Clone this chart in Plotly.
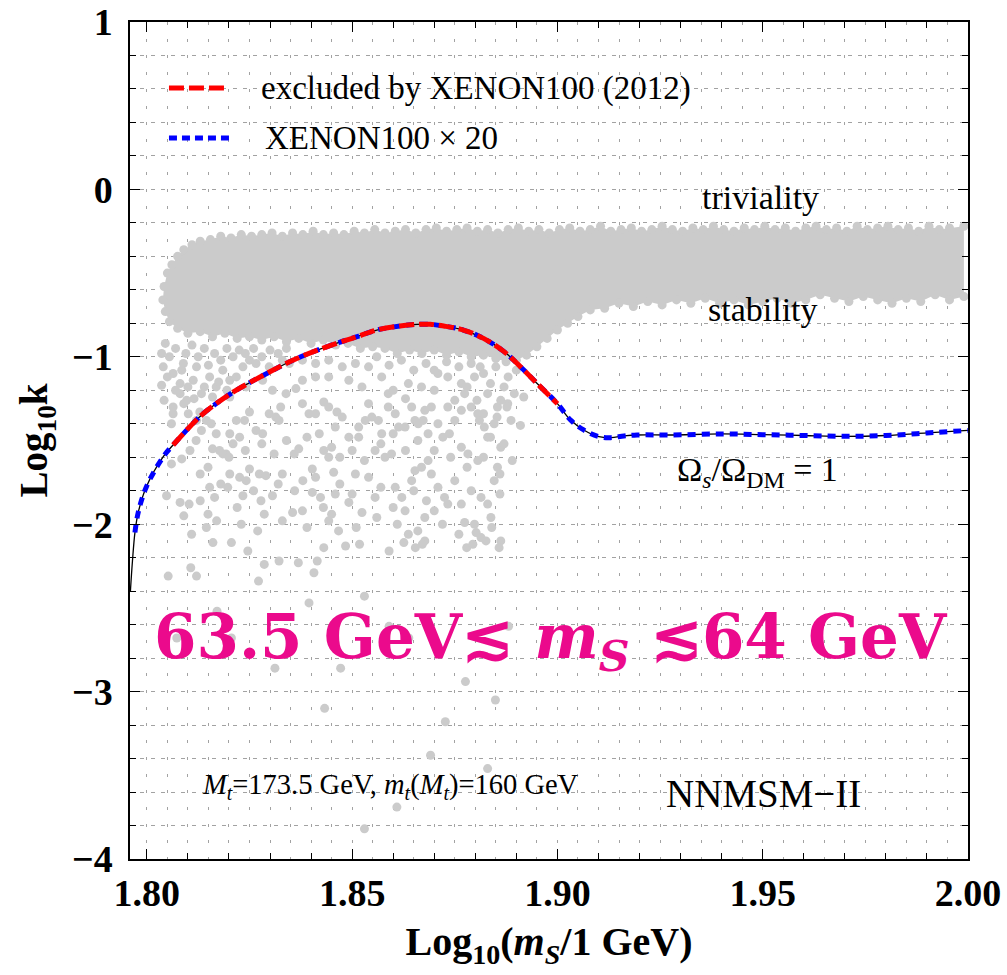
import plotly.graph_objects as go

# ---------------- data ----------------
curve_x = [1.7960, 1.7965, 1.7971, 1.7979, 1.7999, 1.8040, 1.8064, 1.8129, 1.8170, 1.8219,
           1.8308, 1.8357, 1.8406, 1.8463, 1.8512, 1.8560, 1.8617, 1.8658, 1.8690, 1.8723,
           1.8771, 1.8820, 1.8870, 1.8910, 1.8950, 1.9000, 1.9032, 1.9064, 1.9101, 1.9130,
           1.9162, 1.9194, 1.9276, 1.9398, 1.9500, 1.9600, 1.9700, 1.9800, 1.9900, 2.0000]
curve_y = [-2.40, -2.22, -2.05, -1.93, -1.776, -1.597, -1.527, -1.358, -1.278, -1.198,
           -1.079, -1.019, -0.969, -0.919, -0.880, -0.840, -0.816, -0.806, -0.806, -0.816,
           -0.840, -0.890, -0.969, -1.059, -1.158, -1.280, -1.378, -1.437, -1.477, -1.483,
           -1.473, -1.467, -1.467, -1.461, -1.465, -1.470, -1.475, -1.470, -1.455, -1.440]

# ranges of the two exclusion curves
blue_from = 1.7970
red_from, red_to = 1.8064, 1.9000

# dense band of scanned points (outline: top edge, right side, bottom edge)
band_x = [1.8039, 1.8042, 1.8050, 1.8061, 1.8075, 1.8090, 1.8110, 1.8130, 1.8155, 1.8180,
          1.8205, 1.8230, 1.8255, 1.8280, 1.8305, 1.8330, 1.8355, 1.8380, 1.8405, 1.8430,
          1.8455, 1.8480, 1.8505, 1.8530, 1.8555, 1.8580, 1.8605, 1.8630, 1.8655, 1.8680,
          1.8705, 1.8730, 1.8755, 1.8780, 1.8805, 1.8830, 1.8855, 1.8880, 1.8905, 1.8930,
          1.8955, 1.8980, 1.9005, 1.9030, 1.9055, 1.9080, 1.9105, 1.9130, 1.9155, 1.9180,
          1.9205, 1.9230, 1.9255, 1.9280, 1.9305, 1.9330, 1.9355, 1.9380, 1.9405, 1.9430,
          1.9455, 1.9480, 1.9505, 1.9530, 1.9555, 1.9580, 1.9605, 1.9630, 1.9655, 1.9680,
          1.9705, 1.9730, 1.9755, 1.9780, 1.9805, 1.9830, 1.9855, 1.9880, 1.9905, 1.9930,
          1.9955, 1.9990,
          1.9990, 1.9955, 1.9920, 1.9885, 1.9850, 1.9815, 1.9780, 1.9745, 1.9710, 1.9675,
          1.9640, 1.9605, 1.9570, 1.9535, 1.9500, 1.9465, 1.9430, 1.9395, 1.9360, 1.9325,
          1.9290, 1.9255, 1.9220, 1.9185, 1.9150, 1.9115, 1.9080, 1.9050, 1.9025, 1.9000,
          1.8975, 1.8950, 1.8925, 1.8900, 1.8875, 1.8850, 1.8820, 1.8790, 1.8760, 1.8730,
          1.8700, 1.8670, 1.8640, 1.8610, 1.8580, 1.8550, 1.8520, 1.8490, 1.8460, 1.8430,
          1.8400, 1.8370, 1.8340, 1.8310, 1.8280, 1.8250, 1.8220, 1.8190, 1.8160, 1.8130,
          1.8100, 1.8075, 1.8055, 1.8045]
band_y = [-0.66, -0.58, -0.50, -0.45, -0.40, -0.36, -0.33, -0.31, -0.30, -0.28,
          -0.29, -0.27, -0.28, -0.27, -0.26, -0.28, -0.26, -0.27, -0.25, -0.27,
          -0.26, -0.27, -0.25, -0.26, -0.24, -0.26, -0.25, -0.24, -0.26, -0.24,
          -0.23, -0.25, -0.24, -0.23, -0.25, -0.24, -0.26, -0.24, -0.23, -0.25,
          -0.24, -0.26, -0.24, -0.23, -0.25, -0.24, -0.22, -0.25, -0.24, -0.23,
          -0.25, -0.24, -0.22, -0.24, -0.25, -0.23, -0.24, -0.22, -0.24, -0.25,
          -0.23, -0.24, -0.22, -0.24, -0.23, -0.25, -0.23, -0.22, -0.24, -0.23,
          -0.25, -0.22, -0.24, -0.23, -0.22, -0.24, -0.23, -0.25, -0.22, -0.24,
          -0.23, -0.22,
          -0.64, -0.66, -0.63, -0.67, -0.65, -0.68, -0.66, -0.64, -0.67, -0.65,
          -0.63, -0.66, -0.68, -0.65, -0.67, -0.69, -0.66, -0.68, -0.65, -0.68,
          -0.66, -0.69, -0.67, -0.70, -0.68, -0.71, -0.72, -0.76, -0.80, -0.84,
          -0.89, -0.94, -0.99, -1.02, -1.03, -1.01, -0.99, -1.00, -0.97, -0.99,
          -0.96, -0.98, -0.96, -0.98, -0.95, -0.94, -0.95, -0.92, -0.93, -0.90,
          -0.92, -0.89, -0.91, -0.88, -0.90, -0.88, -0.89, -0.86, -0.88, -0.85,
          -0.86, -0.83, -0.79, -0.73]

# individual scattered points
pts_x = [1.8036, 1.8040, 1.8036, 1.8042, 1.8064, 1.8085, 1.8060, 1.8048, 1.8081, 1.8103,
         1.8105, 1.8109, 1.8145, 1.8149, 1.8149, 1.8153, 1.8165, 1.8161, 1.8197, 1.8202,
         1.8193, 1.8177, 1.8206, 1.8226, 1.8234, 1.8242, 1.8250, 1.8274, 1.8286, 1.8290,
         1.8278, 1.8306, 1.8330, 1.8355, 1.8359, 1.8379, 1.8403, 1.8403, 1.8411, 1.8423,
         1.8431, 1.8443, 1.8443, 1.8455, 1.8459, 1.8467, 1.8484, 1.8492, 1.8508, 1.8516,
         1.8524, 1.8556, 1.8556, 1.8580, 1.8596, 1.8605, 1.8621, 1.8629, 1.8637, 1.8645,
         1.8653, 1.8669, 1.8677, 1.8677, 1.8681, 1.8685, 1.8693, 1.8709, 1.8725, 1.8733,
         1.8766, 1.8774, 1.8798, 1.8802, 1.8814, 1.8814, 1.8838, 1.8846, 1.8854, 1.8862,
         1.8862, 1.8806, 1.8782, 1.8766,
         1.8064, 1.8081, 1.8097, 1.8101, 1.8121, 1.8133, 1.8129, 1.8145, 1.8157, 1.8169,
         1.8185, 1.8202, 1.8210, 1.8226, 1.8218, 1.8238, 1.8250, 1.8266, 1.8282, 1.8298,
         1.8314, 1.8322, 1.8326, 1.8339, 1.8363, 1.8379, 1.8395, 1.8411, 1.8431, 1.8443,
         1.8459, 1.8463, 1.8476, 1.8492, 1.8516, 1.8532, 1.8540, 1.8548, 1.8564, 1.8572,
         1.8588, 1.8605, 1.8613, 1.8629, 1.8645, 1.8653, 1.8661, 1.8673, 1.8677, 1.8685,
         1.8693, 1.8709, 1.8721, 1.8733, 1.8737, 1.8750, 1.8766, 1.8774, 1.8790, 1.8806,
         1.8810, 1.8822, 1.8830, 1.8846, 1.8854, 1.8862, 1.8879, 1.8887, 1.8895, 1.8766,
         1.8798, 1.8733, 1.8709, 1.8669, 1.8637, 1.8588, 1.8572, 1.8524, 1.8492, 1.8443,
         1.8411, 1.8379, 1.8306, 1.8282, 1.8242, 1.8202,
         1.8064, 1.8081, 1.8089, 1.8113, 1.8121, 1.8133, 1.8153, 1.8169, 1.8185, 1.8202,
         1.8218, 1.8234, 1.8250, 1.8266, 1.8298, 1.8330, 1.8347, 1.8379, 1.8411, 1.8443,
         1.8476, 1.8508, 1.8540,
         1.8052, 1.8107, 1.8121, 1.8246, 1.8286, 1.8322, 1.8272, 1.8369, 1.8407, 1.8415,
         1.8431, 1.8518, 1.8530, 1.8395, 1.8171, 1.8073, 1.8206, 1.8312, 1.8472, 1.8433,
         1.8590, 1.8638, 1.8590, 1.8626, 1.8654, 1.8671, 1.8779, 1.8794, 1.8826, 1.8858,
         1.8881, 1.8776, 1.8849, 1.8727, 1.8691, 1.8830, 1.8530, 1.8609,
         1.8812, 1.8837, 1.8804, 1.8877, 1.8910, 1.8870, 1.8837, 1.8853, 1.8918, 1.8820,
         1.8045, 1.8055, 1.8070, 1.8085, 1.8095, 1.8110, 1.8125, 1.8140, 1.8150, 1.8165,
         1.8180, 1.8195, 1.8210, 1.8225, 1.8240, 1.8260, 1.8280, 1.8300, 1.8320, 1.8340,
         1.8070, 1.8090, 1.8100, 1.8115, 1.8140, 1.8160, 1.8175, 1.8195, 1.8050, 1.8060,
         1.8560, 1.8590, 1.8620, 1.8650, 1.8680, 1.8700, 1.8730, 1.8760, 1.8790, 1.8820,
         1.8850, 1.8880, 1.8900, 1.8600, 1.8630, 1.8700, 1.8750, 1.8780, 1.8830, 1.8870,
         1.8120, 1.8160, 1.8200, 1.8240, 1.8280, 1.8310, 1.8340, 1.8370, 1.8390, 1.8420,
         1.8450, 1.8470, 1.8500, 1.8530, 1.8570, 1.8600, 1.8630, 1.8660, 1.8700, 1.8740,
         1.8780, 1.8820, 1.8860, 1.8890,
         1.8130, 1.8180, 1.8220, 1.8260, 1.8320, 1.8360, 1.8380, 1.8430, 1.8470, 1.8500,
         1.8540, 1.8570, 1.8600, 1.8650, 1.8700, 1.8750, 1.8790, 1.8830, 1.8860,
         1.8090, 1.8130, 1.8170, 1.8230, 1.8270, 1.8330, 1.8390, 1.8450, 1.8510, 1.8560,
         1.8610, 1.8660, 1.8720, 1.8760, 1.8840]
pts_y = [-0.98, -1.06, -1.17, -1.26, -1.34, -1.61, -1.64, -1.83, -1.87, -1.88,
         -1.56, -2.06, -2.02, -1.94, -1.66, -1.78, -1.84, -2.11, -1.78, -1.70,
         -1.58, -1.56, -2.11, -1.72, -1.83, -1.74, -1.67, -1.70, -1.94, -1.71,
         -1.86, -1.83, -1.70, -1.93, -1.58, -1.92, -1.67, -1.81, -1.72, -1.84,
         -1.56, -1.60, -1.98, -1.69, -1.82, -2.04, -2.13, -1.87, -1.70, -1.48,
         -1.93, -1.84, -1.56, -1.60, -1.58, -1.78, -1.84, -1.92, -2.06, -1.74,
         -1.68, -1.66, -2.10, -1.96, -1.86, -1.62, -1.70, -1.78, -1.84, -1.88,
         -1.88, -1.99, -2.00, -2.05, -1.84, -2.08, -1.96, -1.74, -1.66, -1.54,
         -2.10, -1.62, -1.58, -1.54,
         -1.30, -1.22, -1.26, -1.34, -1.38, -1.44, -1.33, -1.38, -1.40, -1.46,
         -1.58, -1.46, -1.52, -1.48, -1.38, -1.38, -1.33, -1.44, -1.46, -1.34,
         -1.36, -1.38, -1.30, -1.22, -1.19, -1.28, -1.34, -1.34, -1.27, -1.30,
         -1.42, -1.33, -1.36, -1.48, -1.42, -1.38, -1.28, -1.36, -1.38, -1.46,
         -1.30, -1.34, -1.42, -1.42, -1.30, -1.38, -1.40, -1.38, -1.32, -1.46,
         -1.30, -1.40, -1.48, -1.30, -1.46, -1.38, -1.32, -1.22, -1.30, -1.34,
         -1.38, -1.42, -1.48, -1.40, -1.30, -1.26, -1.28, -1.38, -1.22, -1.16,
         -1.12, -1.12, -1.10, -1.18, -1.16, -1.22, -1.12, -1.18, -1.14, -1.12,
         -1.12, -1.14, -1.20, -1.14, -1.18, -1.24,
         -1.10, -1.16, -1.04, -1.14, -1.06, -1.22, -1.12, -1.18, -1.08, -1.14,
         -1.12, -1.06, -1.02, -1.04, -1.06, -1.02, -1.04, -1.02, -1.04, -1.02,
         -1.06, -1.04, -1.06,
         -2.31, -2.26, -2.31, -2.16, -2.24, -2.22, -2.34, -2.23, -2.29, -2.22,
         -2.14, -2.12, -2.43, -2.47, -2.52, -2.68, -2.68, -2.86, -2.86, -3.10,
         -2.61, -2.68, -2.16, -2.11, -2.14, -2.12, -2.14, -2.12, -2.10, -2.14,
         -2.61, -2.94, -3.05, -3.18, -3.38, -3.46, -3.82, -3.69,
         -1.06, -1.16, -1.26, -1.30, -1.41, -1.52, -1.48, -1.36, -1.24, -1.34,
         -0.92, -1.00, -0.95, -1.08, -0.98, -0.93, -1.00, -0.95, -1.05, -0.98,
         -1.02, -0.95, -1.00, -0.96, -0.98, -0.95, -1.00, -0.96, -0.98, -0.95,
         -1.20, -1.28, -1.18, -1.25, -1.18, -1.24, -1.15, -1.20, -1.12, -1.40,
         -1.00, -1.05, -1.02, -1.08, -1.04, -1.08, -1.03, -1.06, -1.04, -1.10,
         -1.06, -1.12, -1.08, -1.20, -1.25, -1.20, -1.26, -1.18, -1.22, -1.18,
         -1.50, -1.55, -1.60, -1.56, -1.52, -1.58, -1.50, -1.55, -1.48, -1.46,
         -1.54, -1.60, -1.56, -1.62, -1.52, -1.46, -1.56, -1.50, -1.56, -1.60,
         -1.66, -1.60, -1.70, -1.62,
         -1.70, -1.76, -1.90, -1.80, -1.76, -1.80, -1.74, -1.90, -1.76, -1.82,
         -1.72, -1.78, -1.90, -1.80, -1.92, -1.74, -1.80, -1.88, -1.82,
         -1.95, -1.86, -1.98, -2.00, -2.04, -1.98, -2.02, -1.94, -2.02, -1.96,
         -2.00, -2.04, -2.00, -2.06, -2.02]

x_range = [1.7959, 2.0]
y_range = [-4.0, 1.0]
x_tickvals = [1.80, 1.85, 1.90, 1.95, 2.00]
x_ticktext = ["1.80", "1.85", "1.90", "1.95", "2.00"]
y_tickvals = [-4, -3, -2, -1, 0, 1]
y_ticktext = ["\u22124", "\u22123", "\u22122", "\u22121", "0", "1"]

legend_labels = ["excluded by XENON100 (2012)", "XENON100 \u00d7 20"]

# ---------------- styling ----------------
SERIF = "Liberation Serif"
GRAY = "#cbcbcb"
RED = "#ff0000"
BLUE = "#0000ff"
MAGENTA = "#eb0a8c"
GRIDC = "#a2a2a2"

blue_x = [x for x in curve_x if x >= blue_from]
blue_y = [y for x, y in zip(curve_x, curve_y) if x >= blue_from]
red_x = [x for x in curve_x if red_from <= x <= red_to]
red_y = [y for x, y in zip(curve_x, curve_y) if red_from <= x <= red_to]

fig = go.Figure()

# invisible trace to carry the grid axes
fig.add_trace(go.Scatter(x=[x_range[0]], y=[y_range[0]], xaxis="x2", yaxis="y2",
                         mode="markers", marker=dict(opacity=0), showlegend=False,
                         hoverinfo="skip"))

fig.add_trace(go.Scatter(x=band_x, y=band_y, mode="lines+markers", fill="toself",
                         fillcolor=GRAY, line=dict(width=0, color=GRAY),
                         marker=dict(size=9, color=GRAY), showlegend=False,
                         hoverinfo="skip"))
fig.add_trace(go.Scatter(x=pts_x, y=pts_y, mode="markers",
                         marker=dict(size=9, color=GRAY, line=dict(width=0)),
                         showlegend=False))
fig.add_trace(go.Scatter(x=curve_x, y=curve_y, mode="lines", line_shape="spline",
                         line=dict(color="black", width=1.3), showlegend=False))
fig.add_trace(go.Scatter(x=blue_x, y=blue_y, mode="lines", line_shape="spline",
                         line=dict(color=BLUE, width=5, dash="8px,6px"),
                         name=legend_labels[1], showlegend=False))
fig.add_trace(go.Scatter(x=red_x, y=red_y, mode="lines", line_shape="spline",
                         line=dict(color=RED, width=5, dash="15px,5px"),
                         name=legend_labels[0], showlegend=False))

tickfont = dict(family=SERIF, size=38, color="black", weight="bold")

fig.update_layout(
    width=1007, height=975,
    margin=dict(l=130, r=39, t=22, b=116),
    paper_bgcolor="white", plot_bgcolor="white",
    showlegend=False,
    xaxis=dict(range=x_range, tickmode="array", tickvals=x_tickvals, ticktext=x_ticktext,
               ticks="inside", ticklen=10, tickwidth=1.3, tickcolor="black",
               showline=True, linecolor="black", linewidth=1.5, mirror="ticks",
               showgrid=False, zeroline=False, tickfont=tickfont,
               minor=dict(tickmode="linear", tick0=1.8, dtick=0.01, ticks="inside",
                          ticklen=6, tickwidth=1.1, tickcolor="black", showgrid=False),
               title=dict(text="<b>Log<sub>10</sub>(<i>m<sub>S</sub></i>/1 GeV)</b>",
                          font=dict(family=SERIF, size=40, color="black"), standoff=14),
               automargin=False),
    yaxis=dict(range=y_range, tickmode="array", tickvals=y_tickvals, ticktext=y_ticktext,
               ticks="inside", ticklen=10, tickwidth=1.3, tickcolor="black",
               showline=True, linecolor="black", linewidth=1.5, mirror="ticks",
               showgrid=False, zeroline=False, tickfont=tickfont, ticklabelstandoff=8,
               minor=dict(tickmode="linear", tick0=-4, dtick=0.2, ticks="inside",
                          ticklen=6, tickwidth=1.1, tickcolor="black", showgrid=False),
               title=dict(text="<b>Log<sub>10</sub>k</b>",
                          font=dict(family=SERIF, size=39, color="black"), standoff=12),
               automargin=False),
    xaxis2=dict(range=x_range, overlaying="x", anchor="y2", showgrid=True,
                tickmode="linear", tick0=1.8, dtick=0.005, gridcolor=GRIDC, gridwidth=1,
                griddash="3px,13.7px", showticklabels=False, ticks="", showline=False,
                zeroline=False),
    yaxis2=dict(range=y_range, overlaying="y", anchor="x2", showgrid=True,
                tickmode="linear", tick0=-4, dtick=0.2, gridcolor=GRIDC, gridwidth=1,
                griddash="4px,6.25px", showticklabels=False, ticks="", showline=False,
                zeroline=False),
)

# legend drawn as keys + labels
fig.add_shape(type="line", xref="paper", yref="paper", x0=0.0465, x1=0.118,
              y0=0.9211, y1=0.9211, line=dict(color=RED, width=5, dash="15px,5px"))
fig.add_shape(type="line", xref="paper", yref="paper", x0=0.0465, x1=0.1217,
              y0=0.8614, y1=0.8614, line=dict(color=BLUE, width=5, dash="8px,5px"))
fig.add_annotation(text=legend_labels[0], xref="paper", yref="paper", x=0.154, y=0.9211,
                   xanchor="left", yanchor="middle", showarrow=False,
                   font=dict(family=SERIF, size=33, color="black"))
fig.add_annotation(text=legend_labels[1], xref="paper", yref="paper", x=0.1587, y=0.8614,
                   xanchor="left", yanchor="middle", showarrow=False,
                   font=dict(family=SERIF, size=33, color="black"))

ann_font = dict(family=SERIF, size=34, color="black")
fig.add_annotation(text="triviality", x=1.9495, y=-0.05, showarrow=False, font=ann_font)
fig.add_annotation(text="stability", x=1.950, y=-0.72, showarrow=False, font=ann_font)
fig.add_annotation(text="\u03a9<sub><i>s</i></sub>/\u03a9<sub>DM</sub> = 1", x=1.9488, y=-1.69,
                   showarrow=False, font=ann_font)
fig.add_annotation(text="<b>63.5 GeV\u2272 <i>m<sub>S</sub></i> \u227264 GeV</b>",
                   x=1.8985, y=-2.70, showarrow=False,
                   font=dict(family="DejaVu Serif", size=61, color=MAGENTA))
fig.add_annotation(text="<i>M<sub>t</sub></i>=173.5 GeV, <i>m<sub>t</sub></i>(<i>M<sub>t</sub></i>)=160 GeV",
                   x=1.8593, y=-3.564, showarrow=False,
                   font=dict(family=SERIF, size=28.5, color="black"))
fig.add_annotation(text="NNMSM\u2212II", x=1.9501, y=-3.61, showarrow=False,
                   font=dict(family=SERIF, size=39, color="black"))

fig.write_html("out.html")
